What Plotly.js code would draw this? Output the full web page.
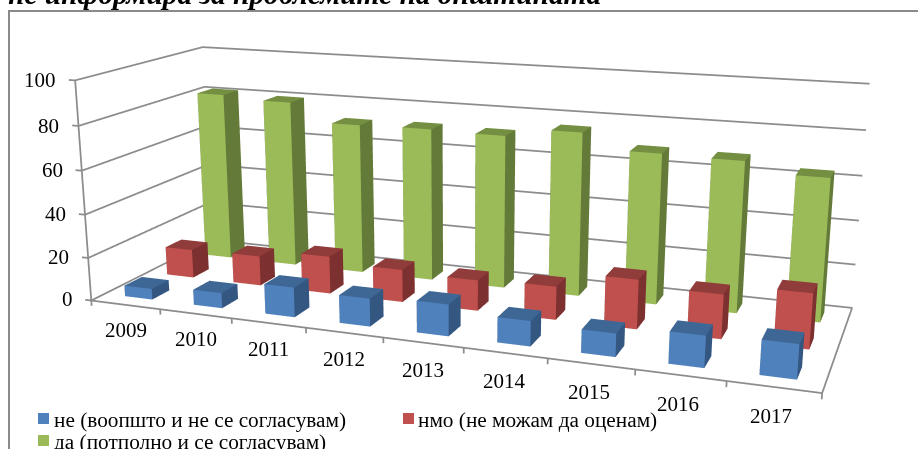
<!DOCTYPE html><html><head><meta charset="utf-8"><script src="https://cdn.plot.ly/plotly-3.0.1.min.js"></script>
<style>html,body{margin:0;padding:0;overflow:hidden;background:#fff;width:918px;height:449px}#g{position:absolute}</style></head><body><div id="g"></div><script>
var years=['2009','2010','2011','2012','2013','2014','2015','2016','2017'];
var ticks=[0,20,40,60,80,100];
var ne=[5,7,13.5,12.5,14,11,10,13.5,14.5];
var nmo=[13.5,14,17.5,15,14,15,22,19.5,24];
var da=[81.5,80,71.5,72,71.5,75.5,68.7,68.2,63.7];
var names=['не (воопшто и не се согласувам)','нмо (не можам да оценам)','да (потполно и се согласувам)'];
var title='не информира за проблемите на општината';
var H=1198,L=-149,T=-352;
var g=document.getElementById('g');g.style.left=L+'px';g.style.top=T+'px';g.style.width=H+'px';g.style.height=H+'px';
function X(p){return (p-L)/H;} function Y(p){return 1-(p-T)/H;}
var lx=[],ly=[],lz=[];function seg(a){a.forEach(function(P){lx.push(P[0]);ly.push(P[1]);lz.push(P[2]);});lx.push(null);ly.push(null);lz.push(null);}
ticks.forEach(function(w){seg([[-0.09,0,w],[0,0,w],[0,3,w],[9,3,w]]);});seg([[0,0,0],[0,0,100]]);seg([[0,0,0],[9,0,0],[9,3,0],[0,3,0]]);
for(var u=0;u<=9;u++)seg([[u,0,0],[u,0,-2.5]]);
function bars(vals,v0,cols,name){var x=[],y=[],z=[],i=[],j=[],k=[],fc=[];var bw=.4;
 vals.forEach(function(h,n){var a=n+.3,b=a+bw,c=v0+.3,d=c+bw;var s=x.length;
  [[a,c,0],[b,c,0],[b,d,0],[a,d,0],[a,c,h],[b,c,h],[b,d,h],[a,d,h]].forEach(function(P){x.push(P[0]);y.push(P[1]);z.push(P[2]);});
  [[0,1,5,4,0],[4,5,6,7,1],[1,2,6,5,2],[0,3,7,4,2],[3,2,6,7,2],[0,1,2,3,1]].forEach(function(F){i.push(s+F[0],s+F[0]);j.push(s+F[1],s+F[2]);k.push(s+F[2],s+F[3]);fc.push(cols[F[4]],cols[F[4]]);});
 });
 return {type:'mesh3d',name:name,x:x,y:y,z:z,i:i,j:j,k:k,facecolor:fc,flatshading:true,lighting:{ambient:1,diffuse:0,specular:0,fresnel:0,roughness:1},hoverinfo:'skip',showscale:false};}
var traces=[{type:'scatter3d',mode:'lines',x:lx,y:ly,z:lz,line:{color:'#8c8c8c',width:3.5},connectgaps:false,hoverinfo:'skip'},
 bars(ne,0,['#4F81BD','#3F6796','#345781'],names[0]),bars(nmo,1,['#C0504D','#8F3C3A','#7C3130'],names[1]),bars(da,2,['#9BBB59','#748F42','#647A39'],names[2])];
var F={family:'"Liberation Serif",serif',size:21,color:'#000'};
var sa=[];ticks.forEach(function(w){sa.push({x:-.25,y:0,z:w-.5,text:String(w),showarrow:false,xanchor:'right',yanchor:'middle',font:F});});
years.forEach(function(s,n){sa.push({x:n+.49,y:0,z:-12,text:s,showarrow:false,xanchor:'center',yanchor:'middle',font:F});});
var LF={family:'"Liberation Serif",serif',size:21.3,color:'#000'};
var an=[{xref:'paper',yref:'paper',x:X(52),y:Y(420),text:names[0],showarrow:false,xanchor:'left',yanchor:'middle',font:LF},
{xref:'paper',yref:'paper',x:X(416),y:Y(420),text:names[1],showarrow:false,xanchor:'left',yanchor:'middle',font:LF},
{xref:'paper',yref:'paper',x:X(52),y:Y(442),text:names[2],showarrow:false,xanchor:'left',yanchor:'middle',font:LF},
{xref:'paper',yref:'paper',x:X(6),y:Y(-6),text:'<b><i>'+title+'</i></b>',showarrow:false,xanchor:'left',yanchor:'middle',font:{family:'"Liberation Serif",serif',size:29.4,color:'#000'}}];
function sq(x,y,c){return {type:'rect',xref:'paper',yref:'paper',x0:X(x),x1:X(x+11),y0:Y(y),y1:Y(y+11),fillcolor:c,line:{width:0}};}
var shapes=[{type:'rect',xref:'paper',yref:'paper',x0:X(9),x1:X(1000),y0:Y(11),y1:Y(600),fillcolor:'rgba(0,0,0,0)',line:{color:'#8a8a8a',width:2}},sq(38,413,'#4F81BD'),sq(403,413,'#C0504D'),sq(38,435,'#9BBB59')];
Plotly.newPlot(g,traces,{width:H,height:H,margin:{l:0,r:0,t:0,b:0,pad:0},paper_bgcolor:'#fff',showlegend:false,annotations:an,shapes:shapes,
scene:{domain:{x:[0,1],y:[0,1]},bgcolor:'rgba(0,0,0,0)',dragmode:'orbit',aspectmode:'manual',aspectratio:{x:11*.35815,y:5*.36193,z:1.4},camera:{eye:{x:2.1011,y:-5.7778,z:1.5155},center:{x:-.0550,y:-.0821,z:-.2178},up:{x:-.0952,y:.2567,z:.9618}},annotations:sa,
xaxis:{visible:false,range:[-1,10]},yaxis:{visible:false,range:[-1,4]},zaxis:{visible:false,range:[-20,120]}}},{displayModeBar:false});
</script></body></html>
